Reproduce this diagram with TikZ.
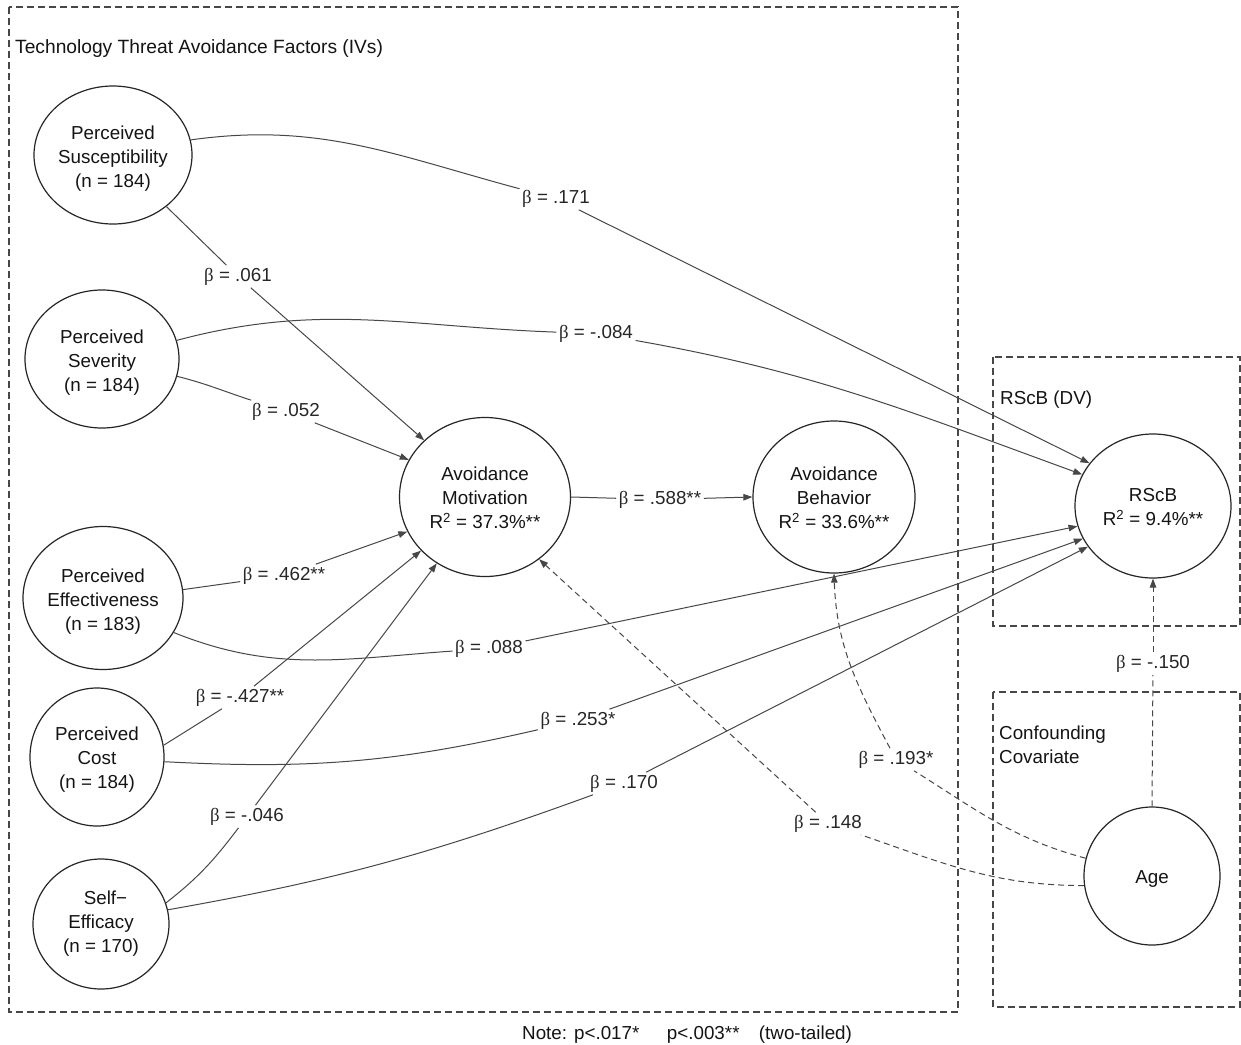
\documentclass[tikz,border=0pt]{standalone}
\usepackage{fontspec}
\setmainfont{Liberation Sans}
\newfontfamily\betafont{Liberation Serif}
\usetikzlibrary{shapes.geometric,arrows.meta}
\newcommand{\bet}{{\betafont β}}

\begin{document}
\begin{tikzpicture}[x=1pt,y=1pt,
  font=\fontsize{18.8}{24}\selectfont,
  var/.style={ellipse,draw=black!85,line width=1.2pt,inner sep=0pt},
  txt/.style={align=center,inner sep=0pt,text=black!92},
  lbl/.style={inner sep=2.5pt,text=black!85,yshift=-2.5pt},
  conn/.style={draw=black!72,line width=1pt},
  arr/.style={-{Triangle[length=9pt,width=6.5pt]}},
  dsh/.style={dash pattern=on 6pt off 4pt},
  frame/.style={draw=black!72,line width=1.1pt,dash pattern=on 7pt off 4pt},
  ttl/.style={anchor=west,inner sep=0pt,align=left,text=black!92}]
\useasboundingbox (0,0) rectangle (1241,-1044);
\fill[white] (0,0) rectangle (1241,-1044);

% group frames
\draw[frame] (9,-7) rectangle (958,-1012);
\draw[frame] (993,-357) rectangle (1240,-626);
\draw[frame] (993,-692) rectangle (1240,-1007);

\node[ttl,font=\fontsize{19.2}{24}\selectfont] (t1) at (15,-49) {Technology Threat Avoidance Factors (IVs)};
\node[ttl] (t2) at (1000,-400) {RScB (DV)};
\node[ttl] (t3) at (999,-745) {Confounding\\Covariate};

% constructs
\node[var,minimum width=158pt,minimum height=138pt,
  label={[txt,yshift=-4pt]center:Perceived\\Susceptibility\\(n = 184)}] (ps) at (113,-155) {};
\node[var,minimum width=154pt,minimum height=138pt,
  label={[txt,yshift=-4pt]center:Perceived\\Severity\\(n = 184)}] (sv) at (102,-359) {};
\node[var,minimum width=160pt,minimum height=143pt,
  label={[txt,yshift=-4pt]center:Perceived\\Effectiveness\\(n = 183)}] (pe) at (103,-598) {};
\node[var,minimum width=134pt,minimum height=138pt,
  label={[txt,yshift=-3pt]center:Perceived\\Cost\\(n = 184)}] (pc) at (97,-757) {};
\node[var,minimum width=136pt,minimum height=130pt,
  label={[txt]center:\hspace*{9pt}Self−\\Efficacy\\(n = 170)}] (se) at (101,-924) {};
\node[var,minimum width=171pt,minimum height=159pt,
  label={[txt,yshift=-1pt]center:Avoidance\\Motivation\\R\textsuperscript{2} = 37.3\%**}] (am) at (485,-497) {};
\node[var,minimum width=162pt,minimum height=152pt,
  label={[txt,yshift=-1pt]center:Avoidance\\Behavior\\R\textsuperscript{2} = 33.6\%**}] (ab) at (834,-497) {};
\node[var,minimum width=156pt,minimum height=144pt,
  label={[txt,yshift=-1pt]center:RScB\\R\textsuperscript{2} = 9.4\%**}] (rs) at (1153,-506) {};
\node[var,minimum width=136pt,minimum height=138pt,
  label={[txt,yshift=-3pt]center:Age}] (age) at (1152,-876) {};

% path coefficients
\node[lbl] (l061) at (238,-274) {\bet{} = .061};
\node[lbl] (l171) at (556,-196) {\bet{} = .171};
\node[lbl] (l052) at (286,-409) {\bet{} = .052};
\node[lbl] (l084) at (596,-331) {\bet{} = -.084};
\node[lbl] (l462) at (284,-573) {\bet{} = .462**};
\node[lbl] (l088) at (489,-646) {\bet{} = .088};
\node[lbl] (l427) at (240,-695) {\bet{} = -.427**};
\node[lbl] (l253) at (578,-718) {\bet{} = .253*};
\node[lbl] (l046) at (247,-814) {\bet{} = -.046};
\node[lbl] (l170) at (624,-781) {\bet{} = .170};
\node[lbl] (l588) at (660,-497) {\bet{} = .588**};
\node[lbl] (l150) at (1153,-661) {\bet{} = -.150};
\node[lbl] (l193) at (896,-757) {\bet{} = .193*};
\node[lbl] (l148) at (828,-821) {\bet{} = .148};

% susceptibility
\draw[conn] (ps.-44) -- (l061);
\draw[conn,arr] (l061) -- (am.137);
\draw[conn] (ps.11) to[out=8,in=165] (l171);
\draw[conn,arr] (l171) -- (rs.146);
% severity
\draw[conn] (sv.-13) to[out=-14,in=162] (l052);
\draw[conn,arr] (l052) -- (am.154);
\draw[conn] (sv.14) to[out=15,in=178] (l084);
\draw[conn,arr] (l084) to[out=-10,in=160] (rs.156);
% effectiveness
\draw[conn] (pe.6) -- (l462);
\draw[conn,arr] (l462) -- (am.204);
\draw[conn] (pe.-26) to[out=-22,in=184] (l088);
\draw[conn,arr] (l088) -- (rs.195);
% cost
\draw[conn] (pc.10) -- (l427);
\draw[conn,arr] (l427) -- (am.220);
\draw[conn] (pc.-4) to[out=-3,in=193] (l253);
\draw[conn,arr] (l253) -- (rs.205);
% self-efficacy
\draw[conn] (se.18) to[out=38,in=233] (l046);
\draw[conn,arr] (l046) -- (am.234);
\draw[conn] (se.12) to[out=10,in=200] (l170);
\draw[conn,arr] (l170) -- (rs.212);
% mediation
\draw[conn] (am.east) -- (l588);
\draw[conn,arr] (l588) -- (ab.west);
% covariate
\draw[conn,dsh] (age.north) -- (l150);
\draw[conn,dsh,arr] (l150) -- (rs.south);
\draw[conn,dsh] (age.165) to[out=165,in=-32] (l193);
\draw[conn,dsh,arr] (l193) to[out=118,in=-88] (ab.south);
\draw[conn,dsh] (age.188) to[out=180,in=-19] (l148);
\draw[conn,dsh,arr] (l148) -- (am.311);

\node[anchor=west,inner sep=0pt,text=black!92] (note) at (522,-1035) {Note: p<.017*\hspace{27.5pt}p<.003**\hspace{19.4pt}(two-tailed)};
\end{tikzpicture}
\end{document}
